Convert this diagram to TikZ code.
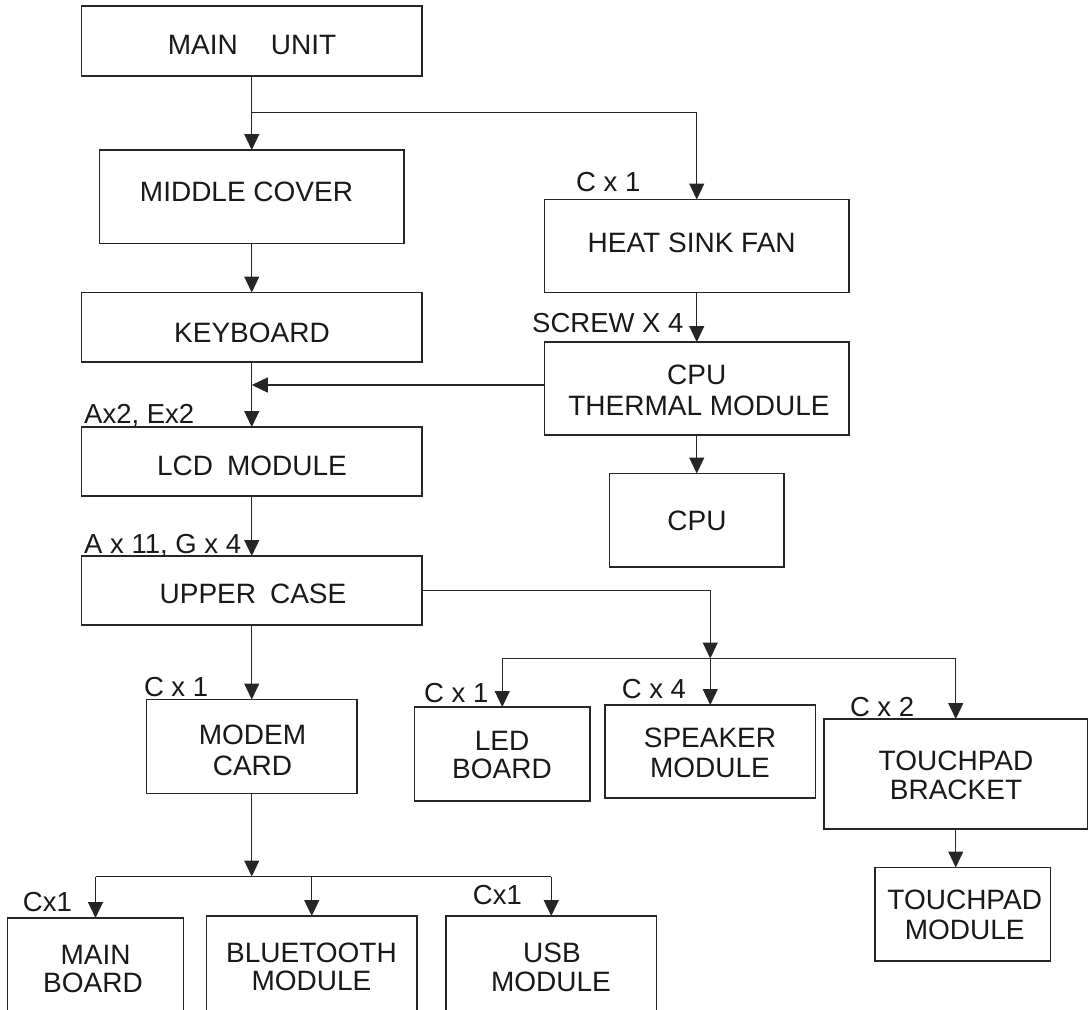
\documentclass[tikz,border=0pt]{standalone}
\usepackage{fontspec}
\setmainfont{Liberation Sans}
\usetikzlibrary{arrows.meta,fit}
\begin{document}
\begin{tikzpicture}[x=1pt,y=-1pt,
  box/.style={draw=black!85,line width=1.2pt,rectangle,inner sep=0pt,outer sep=0pt},
  txt/.style={font=\fontsize{28}{30}\selectfont,inner sep=0pt,anchor=base,text=black!90},
  lbl/.style={font=\fontsize{27.5}{30}\selectfont,inner sep=0pt,anchor=base west,text=black!90},
  conn/.style={draw=black!85,line width=1.2pt},
  arr/.style={conn,-{Triangle[length=16pt,width=15pt]}}]
\useasboundingbox (0,0) rectangle (1088,1010);
\clip (0,0) rectangle (1088,1010);
\fill[white] (0,0) rectangle (1088,1010);
% boxes
\node[box,fit={(81.5,6) (422,76)}] (mu) {};
\node[box,fit={(99.5,150) (404,243.5)}] (mc) {};
\node[box,fit={(81.5,292.5) (422,362)}] (kb) {};
\node[box,fit={(81.5,427) (422,496)}] (lcd) {};
\node[box,fit={(81.5,556) (422,625)}] (uc) {};
\node[box,fit={(146.5,699.5) (357,793.5)}] (modem) {};
\node[box,fit={(544.5,199.5) (849,292.5)}] (hs) {};
\node[box,fit={(544.5,342) (849,435)}] (th) {};
\node[box,fit={(609.5,473.5) (784,567)}] (cpu) {};
\node[box,fit={(414.5,707) (590,801)}] (led) {};
\node[box,fit={(605,705) (815.5,798)}] (spk) {};
\node[box,fit={(824,719) (1087.5,829)}] (tb) {};
\node[box,fit={(875,867.5) (1050.5,961)}] (tm) {};
\node[box,fit={(7.5,918) (183.5,1030)}] (mb) {};
\node[box,fit={(206.5,916) (417,1030)}] (bt) {};
\node[box,fit={(446,916) (656.5,1030)}] (usb) {};
% box texts
\node[txt] (mu-t) at (252,54.3) {MAIN\hspace{33pt}UNIT};
\node[txt] (mc-t) at (246.5,201.7) {MIDDLE COVER};
\node[txt] (kb-t) at (252,342) {KEYBOARD};
\node[txt] (lcd-t) at (252,475) {LCD\hspace{14pt}MODULE};
\node[txt] (uc-t) at (253,603.3) {UPPER\hspace{14pt}CASE};
\node[txt] (hs-t) at (691.7,252.7) {HEAT SINK FAN};
\node[txt] (th-t1) at (696.7,384) {CPU};
\node[txt] (th-t2) at (699,415.7) {THERMAL MODULE};
\node[txt] (cpu-t) at (697,530) {CPU};
\node[txt] (modem-t1) at (252.5,744) {MODEM};
\node[txt] (modem-t2) at (252.5,775) {CARD};
\node[txt] (led-t1) at (502,750) {LED};
\node[txt] (led-t2) at (502,778) {BOARD};
\node[txt] (spk-t1) at (710,747) {SPEAKER};
\node[txt] (spk-t2) at (710,777) {MODULE};
\node[txt] (tb-t1) at (956,770) {TOUCHPAD};
\node[txt] (tb-t2) at (956,799) {BRACKET};
\node[txt] (tm-t1) at (964.7,909) {TOUCHPAD};
\node[txt] (tm-t2) at (964.7,939) {MODULE};
\node[txt] (mb-t1) at (95.5,964) {MAIN};
\node[txt] (mb-t2) at (93,992) {BOARD};
\node[txt] (bt-t1) at (311.5,962) {BLUETOOTH};
\node[txt] (bt-t2) at (311.5,990) {MODULE};
\node[txt] (usb-t1) at (552,962.7) {USB};
\node[txt] (usb-t2) at (551,991.7) {MODULE};
% labels
\node[lbl] (l1) at (576,191.5) {C x 1};
\node[lbl] (l2) at (532,332.5) {SCREW X 4};
\node[lbl] (l3) at (84,423.1) {Ax2, Ex2};
\node[lbl] (l4) at (84,553.1) {A x 11, G x 4};
\node[lbl] (l5) at (143.8,696.5) {C x 1};
\node[lbl] (l6) at (424,702.8) {C x 1};
\node[lbl] (l7) at (621.6,698.8) {C x 4};
\node[lbl] (l8) at (849.8,716.5) {C x 2};
\node[lbl] (l9) at (22.7,911.5) {Cx1};
\node[lbl] (l10) at (472.7,904.8) {Cx1};
% branch coordinates
\coordinate (b1) at (696.75,112.5);
\coordinate (b2) at (710.25,590.5);
\coordinate (b3) at (710.25,658.5);
\coordinate (b4) at (251.75,876.5);
% connectors
\draw[arr] (mu.south) -- (mc.north);
\draw[arr] (b1 -| mu.south) -- (b1) -- (hs.north);
\draw[arr] (mc.south) -- (kb.north);
\draw[arr] (kb.south) -- (lcd.north);
\draw[arr] ([yshift=3.5pt]th.west) -- ([yshift=3.5pt]th.west -| kb.south);
\draw[arr] (hs.south) -- (th.north);
\draw[arr] (th.south) -- (cpu.north);
\draw[arr] (lcd.south) -- (uc.north);
\draw[arr] (uc.east) -- (b2) -- (b3);
\draw[conn] (b3 -| led.north) -- (b3 -| tb.north);
\draw[arr] (b3 -| led.north) -- (led.north);
\draw[arr] (b3) -- (spk.north);
\draw[arr] (b3 -| tb.north) -- (tb.north);
\draw[arr] (tb.south) -- (tb.south |- tm.north);
\draw[arr] (uc.south) -- (modem.north);
\draw[arr] (modem.south) -- (b4);
\draw[conn] (b4 -| mb.north) -- (b4 -| usb.north);
\draw[arr] (b4 -| mb.north) -- (mb.north);
\draw[arr] (b4 -| bt.north) -- (bt.north);
\draw[arr] (b4 -| usb.north) -- (usb.north);
\end{tikzpicture}
\end{document}
